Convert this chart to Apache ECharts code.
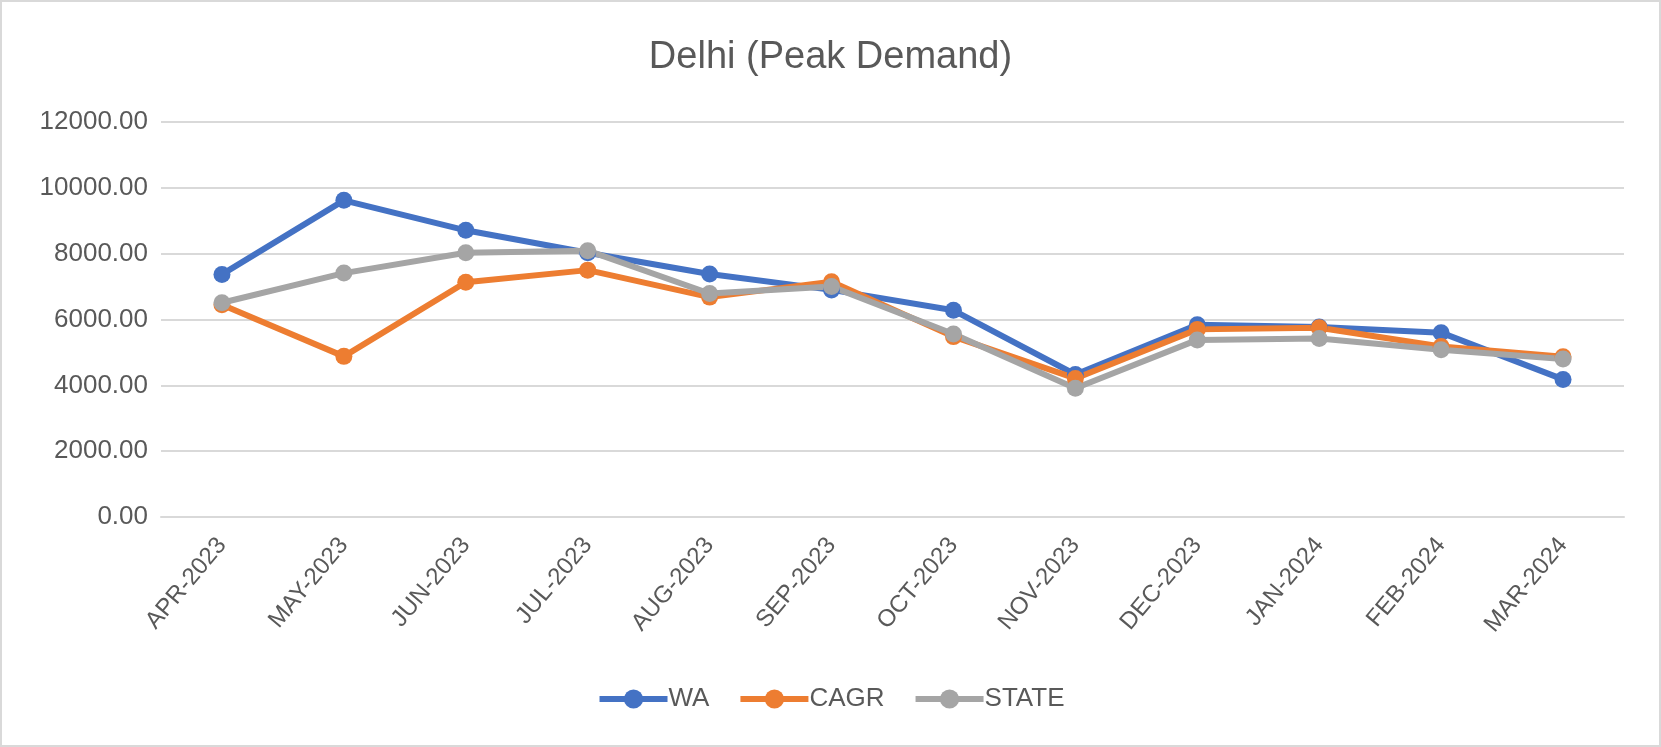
<!DOCTYPE html>
<html>
<head>
<meta charset="utf-8">
<script src="https://cdn.jsdelivr.net/npm/echarts@6/dist/echarts.min.js"></script>
<style>
html,body{margin:0;padding:0;background:#fff;}
#wrap{position:absolute;left:0;top:0;width:1657px;height:743px;border:2px solid #d9d9d9;background:#fff;}
#chart{width:1657px;height:743px;}
</style>
</head>
<body>
<div id="wrap"><div id="chart"></div></div>
<script>
const categories = ["APR-2023","MAY-2023","JUN-2023","JUL-2023","AUG-2023","SEP-2023","OCT-2023","NOV-2023","DEC-2023","JAN-2024","FEB-2024","MAR-2024"];
const waValues = [7370, 9620, 8710, 8030, 7380, 6900, 6280, 4330, 5840, 5770, 5600, 4180];
const cagrValues = [6450, 4880, 7130, 7500, 6680, 7150, 5480, 4210, 5700, 5750, 5180, 4870];
const stateValues = [6510, 7410, 8030, 8090, 6790, 7000, 5560, 3910, 5380, 5420, 5080, 4800];
const seriesNames = ["WA","CAGR","STATE"];
const titleText = "Delhi (Peak Demand)";

const colors = ['#4472C4','#ED7D31','#A5A5A5'];
const textColor = '#595959';
const font = 'Liberation Sans, Arial, sans-serif';

const chart = echarts.init(document.getElementById('chart'), null, {renderer:'canvas'});
function mk(name, data, color){
  return {
    name: name, type: 'line', data: data,
    symbol: 'circle', symbolSize: 17,
    lineStyle: {width: 6, color: color},
    itemStyle: {color: color},
    emphasis: {disabled: true},
    animation: false
  };
}
chart.setOption({
  animation: false,
  color: colors,
  title: {
    text: titleText, left: 'center', top: 32,
    textStyle: {fontFamily: font, fontSize: 38, fontWeight: 'normal', color: textColor}
  },
  legend: {
    data: seriesNames, bottom: 28, left: 'center',
    itemWidth: 68, itemHeight: 24, itemGap: 28,
    lineStyle: {width: 6},
    textStyle: {fontFamily: font, fontSize: 26, color: textColor, padding: [0,0,0,-4]}
  },
  grid: {left: 159, right: 35, top: 120, bottom: 228, containLabel: false},
  xAxis: {
    type: 'category', data: categories, boundaryGap: true,
    axisLine: {show: true, lineStyle: {color: '#d9d9d9', width: 2}},
    axisTick: {show: false},
    axisLabel: {rotate: 50, interval: 0, margin: 24, fontFamily: font, fontSize: 24, color: textColor}
  },
  yAxis: {
    type: 'value', min: 0, max: 12000, interval: 2000,
    axisLine: {show: false}, axisTick: {show: false},
    splitLine: {lineStyle: {color: '#d9d9d9', width: 2}},
    axisLabel: {margin: 13, fontFamily: font, fontSize: 26, color: textColor,
      formatter: v => v.toFixed(2)}
  },
  series: [mk(seriesNames[0], waValues, colors[0]), mk(seriesNames[1], cagrValues, colors[1]), mk(seriesNames[2], stateValues, colors[2])]
});
</script>
</body>
</html>
